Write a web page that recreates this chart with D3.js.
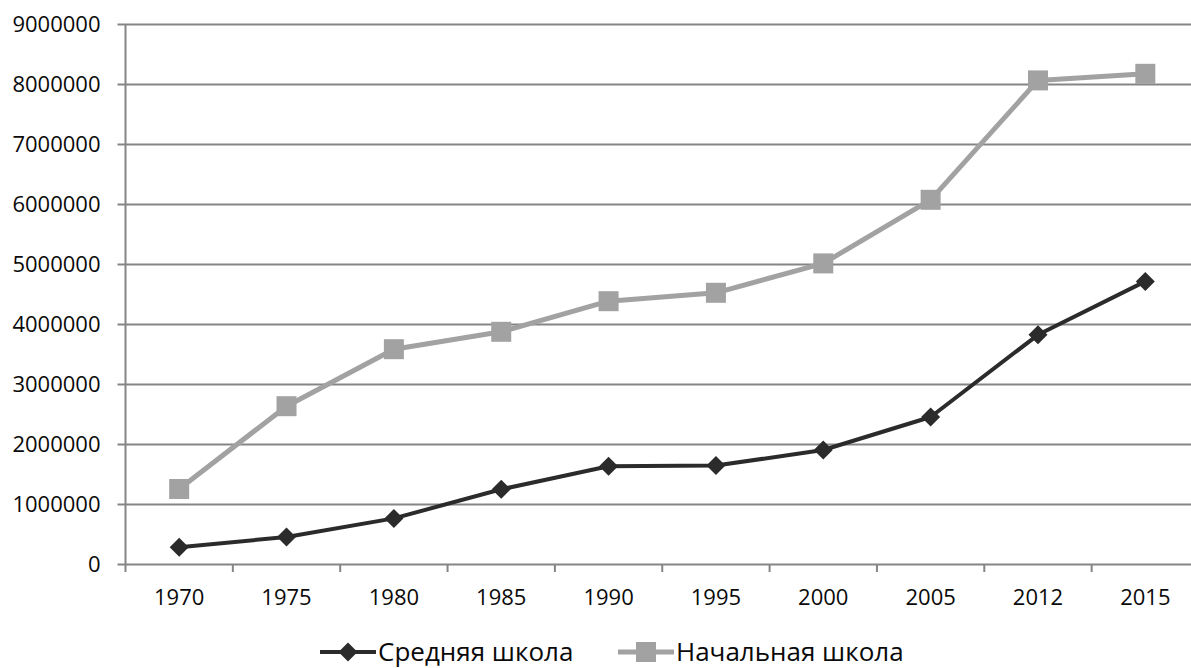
<!DOCTYPE html>
<html>
<head>
<meta charset="utf-8">
<script src="https://cdn.jsdelivr.net/npm/d3@7"></script>
<style>
  body { margin: 0; background: #fff; }
  text { font-family: 'Open Sans', sans-serif; fill: #0a0a0a; }
</style>
</head>
<body>
<div id="chart"></div>
<script>
const years = ['1970', '1975', '1980', '1985', '1990', '1995', '2000', '2005', '2012', '2015'];
const secondary = [280000, 450000, 760000, 1245000, 1630000, 1640000, 1900000, 2450000, 3820000, 4710000];
const primary = [1250000, 2630000, 3580000, 3870000, 4380000, 4520000, 5010000, 6070000, 8060000, 8170000];
const yTicks = [0, 1000000, 2000000, 3000000, 4000000, 5000000, 6000000, 7000000, 8000000, 9000000];
const seriesNames = ['Средняя школа', 'Начальная школа'];

const width = 1191;
const height = 668;
const margin = { left: 125.5, right: -8, top: 24, bottom: 104 };

const svg = d3.select('#chart')
  .append('svg')
  .attr('width', width)
  .attr('height', height);

const x = d3.scaleBand()
  .domain(years)
  .range([margin.left, width - margin.right]);

const y = d3.scaleLinear()
  .domain([0, 9000000])
  .range([height - margin.bottom, margin.top]);

// gridlines + y labels
const yAxis = svg.append('g')
  .attr('transform', `translate(${margin.left - 8}, 0)`)
  .call(d3.axisLeft(y)
    .tickValues(yTicks)
    .tickFormat(d3.format('d'))
    .tickSize(-(width - margin.left + 8))
    .tickPadding(17));
yAxis.select('.domain').remove();
yAxis.selectAll('line').attr('stroke', '#858585').attr('stroke-width', 2);
yAxis.selectAll('text').style('font-size', '22px');

// vertical axis line
svg.append('line')
  .attr('x1', margin.left).attr('x2', margin.left)
  .attr('y1', y(9000000)).attr('y2', y(0) + 8)
  .attr('stroke', '#858585').attr('stroke-width', 2);

// category ticks
svg.append('g')
  .selectAll('line')
  .data(years.slice(1))
  .enter()
  .append('line')
  .attr('x1', d => x(d)).attr('x2', d => x(d))
  .attr('y1', y(0)).attr('y2', y(0) + 8)
  .attr('stroke', '#858585').attr('stroke-width', 2);

// x labels
const xAxis = svg.append('g')
  .attr('transform', `translate(0, ${y(0)})`)
  .call(d3.axisBottom(x).tickSize(0).tickPadding(25));
xAxis.select('.domain').remove();
xAxis.selectAll('text').style('font-size', '22px');

const cx = d => x(d) + x.bandwidth() / 2;

const line = d3.line()
  .x(d => cx(d[0]))
  .y(d => y(d[1]));

const primaryData = years.map((yr, i) => [yr, primary[i]]);
const secondaryData = years.map((yr, i) => [yr, secondary[i]]);

const gray = '#a2a2a2';
const dark = '#2b2b2b';

svg.append('path')
  .datum(primaryData)
  .attr('fill', 'none')
  .attr('stroke', gray)
  .attr('stroke-width', 5)
  .attr('stroke-linejoin', 'round')
  .attr('d', line);

svg.append('g')
  .selectAll('rect')
  .data(primaryData)
  .enter()
  .append('rect')
  .attr('x', d => cx(d[0]) - 10)
  .attr('y', d => y(d[1]) - 10)
  .attr('width', 20)
  .attr('height', 20)
  .attr('fill', gray);

svg.append('path')
  .datum(secondaryData)
  .attr('fill', 'none')
  .attr('stroke', dark)
  .attr('stroke-width', 4)
  .attr('stroke-linejoin', 'round')
  .attr('d', line);

const diamond = d3.symbol().type(d3.symbolDiamond2).size(230);

svg.append('g')
  .selectAll('path')
  .data(secondaryData)
  .enter()
  .append('path')
  .attr('transform', d => `translate(${cx(d[0])}, ${y(d[1])})`)
  .attr('d', diamond)
  .attr('fill', dark);

// legend
const legend = [
  { name: seriesNames[0], color: dark, x: 320, kind: 'diamond' },
  { name: seriesNames[1], color: gray, x: 618, kind: 'square' },
];
const legendY = 652;
const lg = svg.append('g')
  .selectAll('g')
  .data(legend)
  .enter()
  .append('g')
  .attr('transform', d => `translate(${d.x}, ${legendY})`);

lg.append('line')
  .attr('x1', 0).attr('x2', 56)
  .attr('y1', 0).attr('y2', 0)
  .attr('stroke', d => d.color)
  .attr('stroke-width', d => d.kind === 'square' ? 5 : 4);

lg.each(function (d) {
  const g = d3.select(this);
  if (d.kind === 'square') {
    g.append('rect').attr('x', 18).attr('y', -10).attr('width', 20).attr('height', 20).attr('fill', d.color);
  } else {
    g.append('path').attr('transform', 'translate(28, 0)').attr('d', diamond).attr('fill', d.color);
  }
});

lg.append('text')
  .attr('x', 58)
  .attr('y', 9)
  .style('font-size', '26px')
  .text(d => d.name);
</script>
</body>
</html>
